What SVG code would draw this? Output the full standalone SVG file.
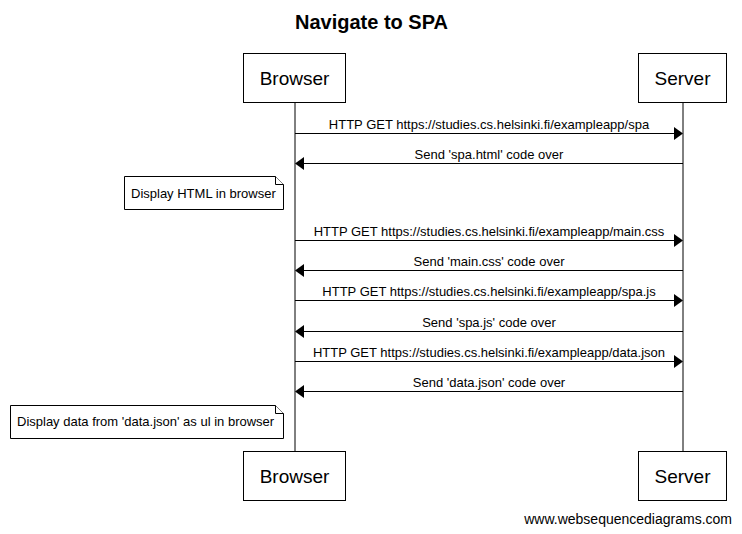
<svg xmlns="http://www.w3.org/2000/svg" width="742" height="534" viewBox="0 0 742 534">
<style>
.box{fill:#fff;stroke:#000;stroke-width:1}
.ptxt{font-family:"Liberation Sans",Arial,sans-serif;font-size:19px;text-anchor:middle;fill:#000}
.life{stroke:#000;stroke-width:1}
.msg{stroke:#000;stroke-width:1;fill:none}
.head{fill:#000}
.mtxt{font-family:"Liberation Sans",Arial,sans-serif;font-size:13px;text-anchor:middle;fill:#000}
.ntxt{font-family:"Liberation Sans",Arial,sans-serif;font-size:13px;fill:#000}
.note{fill:#fff;stroke:#000;stroke-width:1}
</style>
<rect width="742" height="534" fill="#fff"/>
<text x="371.5" y="29" font-family="'Liberation Sans',Arial,sans-serif" font-size="20" font-weight="bold" text-anchor="middle">Navigate to SPA</text>

<g id="lifelines">
<line class="life" x1="295" y1="102" x2="295" y2="451"/>
<line class="life" x1="683" y1="102" x2="683" y2="451"/>
</g>

<g id="browser-top">
<rect class="box" x="243.5" y="53.5" width="102" height="49"/>
<text class="ptxt" x="294.5" y="85">Browser</text>
</g>
<g id="server-top">
<rect class="box" x="638.5" y="53.5" width="88" height="49"/>
<text class="ptxt" x="682.5" y="85">Server</text>
</g>
<g id="browser-bottom">
<rect class="box" x="243.5" y="451.5" width="102" height="49"/>
<text class="ptxt" x="294.5" y="483">Browser</text>
</g>
<g id="server-bottom">
<rect class="box" x="638.5" y="451.5" width="88" height="49"/>
<text class="ptxt" x="682.5" y="483">Server</text>
</g>

<g id="connectors">
<line class="msg" x1="295" y1="133.5" x2="675" y2="133.5"/>
<polygon class="head" points="683,133.5 674,127 674,140"/>
<text class="mtxt" x="489" y="129">HTTP GET https://studies.cs.helsinki.fi/exampleapp/spa</text>

<line class="msg" x1="304" y1="163.5" x2="683" y2="163.5"/>
<polygon class="head" points="295,163.5 304,157 304,170"/>
<text class="mtxt" x="489" y="159">Send 'spa.html' code over</text>

<line class="msg" x1="295" y1="240.5" x2="675" y2="240.5"/>
<polygon class="head" points="683,240.5 674,234 674,247"/>
<text class="mtxt" x="489" y="236">HTTP GET https://studies.cs.helsinki.fi/exampleapp/main.css</text>

<line class="msg" x1="304" y1="270.5" x2="683" y2="270.5"/>
<polygon class="head" points="295,270.5 304,264 304,277"/>
<text class="mtxt" x="489" y="266">Send 'main.css' code over</text>

<line class="msg" x1="295" y1="300.5" x2="675" y2="300.5"/>
<polygon class="head" points="683,300.5 674,294 674,307"/>
<text class="mtxt" x="489" y="296">HTTP GET https://studies.cs.helsinki.fi/exampleapp/spa.js</text>

<line class="msg" x1="304" y1="331.5" x2="683" y2="331.5"/>
<polygon class="head" points="295,331.5 304,325 304,338"/>
<text class="mtxt" x="489" y="327">Send 'spa.js' code over</text>

<line class="msg" x1="295" y1="361.5" x2="675" y2="361.5"/>
<polygon class="head" points="683,361.5 674,355 674,368"/>
<text class="mtxt" x="489" y="357">HTTP GET https://studies.cs.helsinki.fi/exampleapp/data.json</text>

<line class="msg" x1="304" y1="391.5" x2="683" y2="391.5"/>
<polygon class="head" points="295,391.5 304,385 304,398"/>
<text class="mtxt" x="489" y="387">Send 'data.json' code over</text>
</g>

<g id="note1">
<path class="note" d="M124.5,176.5 H275.5 L283.5,184.5 V209.5 H124.5 Z"/>
<path class="note" d="M275.5,176.5 V184.5 H283.5" fill="none"/>
<text class="ntxt" x="131" y="197.5">Display HTML in browser</text>
</g>
<g id="note2">
<path class="note" d="M10.5,405.5 H275.5 L283.5,413.5 V438.5 H10.5 Z"/>
<path class="note" d="M275.5,405.5 V413.5 H283.5" fill="none"/>
<text class="ntxt" x="17" y="426">Display data from 'data.json' as ul in browser</text>
</g>

<text x="732" y="523.5" font-family="'Liberation Sans',Arial,sans-serif" font-size="14" text-anchor="end">www.websequencediagrams.com</text>
</svg>
